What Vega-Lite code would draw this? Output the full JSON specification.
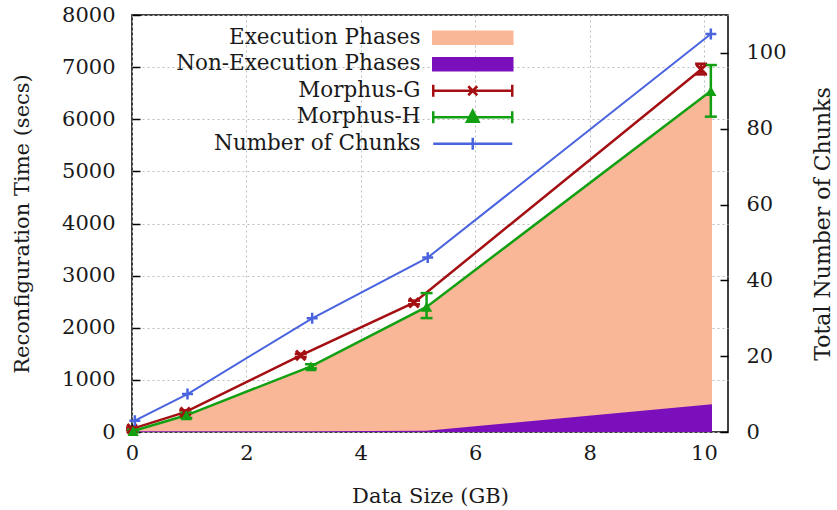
{
  "$schema": "https://vega.github.io/schema/vega-lite/v6.json",
  "width": 596,
  "height": 417,
  "autosize": {"type": "none"},
  "padding": {"left": 132, "top": 15, "right": 109, "bottom": 78},
  "background": "white",
  "config": {
    "font": "DejaVu Serif",
    "view": {"stroke": "#000", "strokeWidth": 1.5},
    "axis": {
      "labelFont": "DejaVu Serif",
      "labelFontSize": 21,
      "labelColor": "#1a1a1a",
      "labelFlush": false,
      "format": "d",
      "titleFont": "DejaVu Serif",
      "titleFontSize": 21,
      "titleFontWeight": "normal",
      "titleColor": "#1a1a1a",
      "domain": false,
      "tickColor": "#000",
      "tickWidth": 1.5,
      "gridColor": "#bdbdbd",
      "gridDash": [2, 3],
      "gridWidth": 1
    },
    "legend": {
      "labelFont": "DejaVu Serif",
      "labelFontSize": 21.5,
      "labelColor": "#1a1a1a",
      "labelLimit": 0
    }
  },
  "data": {
    "values": [
      {"series": "Execution Phases", "x": 0, "y": 20},
      {"series": "Execution Phases", "x": 0.95, "y": 320},
      {"series": "Execution Phases", "x": 3.13, "y": 1260},
      {"series": "Execution Phases", "x": 5.15, "y": 2400},
      {"series": "Execution Phases", "x": 10.14, "y": 6540},
      {"series": "Non-Execution Phases", "x": 0, "y": 15},
      {"series": "Non-Execution Phases", "x": 0.95, "y": 15},
      {"series": "Non-Execution Phases", "x": 3.13, "y": 15},
      {"series": "Non-Execution Phases", "x": 5.15, "y": 25},
      {"series": "Non-Execution Phases", "x": 10.14, "y": 530},
      {"series": "Morphus-G", "x": 0.0, "y": 60, "lo": 35, "hi": 85},
      {"series": "Morphus-G", "x": 0.93, "y": 380, "lo": 345, "hi": 415},
      {"series": "Morphus-G", "x": 2.95, "y": 1470, "lo": 1440, "hi": 1500},
      {"series": "Morphus-G", "x": 4.93, "y": 2480, "lo": 2450, "hi": 2520},
      {"series": "Morphus-G", "x": 9.95, "y": 6955, "lo": 6860, "hi": 7065},
      {"series": "Morphus-H", "x": 0.02, "y": 20, "lo": 0, "hi": 45},
      {"series": "Morphus-H", "x": 0.95, "y": 320, "lo": 270, "hi": 370},
      {"series": "Morphus-H", "x": 3.13, "y": 1260, "lo": 1220, "hi": 1300},
      {"series": "Morphus-H", "x": 5.15, "y": 2400, "lo": 2185, "hi": 2665},
      {"series": "Morphus-H", "x": 10.12, "y": 6540, "lo": 6050, "hi": 7040},
      {"series": "Number of Chunks", "x": 0.05, "y": 3},
      {"series": "Number of Chunks", "x": 0.97, "y": 10},
      {"series": "Number of Chunks", "x": 3.15, "y": 30},
      {"series": "Number of Chunks", "x": 5.17, "y": 46},
      {"series": "Number of Chunks", "x": 10.12, "y": 105}
    ]
  },
  "encoding": {
    "x": {
      "field": "x",
      "type": "quantitative",
      "title": "Data Size (GB)",
      "scale": {"domain": [0, 10.42], "nice": false, "zero": false},
      "axis": {
        "values": [0, 2, 4, 6, 8, 10],
        "grid": true,
        "tickSize": -8,
        "labelPadding": 18,
        "titlePadding": 22
      }
    },
    "color": {
      "field": "series",
      "type": "nominal",
      "scale": {
        "domain": ["Execution Phases", "Non-Execution Phases", "Morphus-G", "Morphus-H", "Number of Chunks"],
        "range": ["#f9b797", "#7a0fbb", "#a30f12", "#12a012", "#4a63de"]
      },
      "legend": {
        "title": null,
        "orient": "none",
        "legendX": 280,
        "legendY": 12,
        "padding": 0,
        "labelAlign": "right",
        "labelOffset": -63,
        "symbolOffset": 50,
        "symbolSize": 100,
        "symbolStrokeWidth": 2.5,
        "rowPadding": 3.5,
        "encode": {
          "symbols": {
            "update": {
              "shape": {"signal": "datum.value === 'Execution Phases' || datum.value === 'Non-Execution Phases' ? 'M-7.9,-1.2H7.9V1.2H-7.9Z' : datum.value === 'Morphus-G' ? 'M-7.9,0H7.9M-7.9,-1.2V1.2M7.9,-1.2V1.2M-0.9,-0.9L0.9,0.9M0.9,-0.9L-0.9,0.9' : datum.value === 'Morphus-H' ? 'M-7.9,0H7.9M-7.9,-1.2V1.2M7.9,-1.2V1.2M0,-1.3L1.15,0.9L-1.15,0.9Z' : 'M-7.9,0H7.9M0,-1.2V1.2'"},
              "fill": {"signal": "datum.value === 'Execution Phases' ? '#f9b797' : datum.value === 'Non-Execution Phases' ? '#7a0fbb' : datum.value === 'Morphus-H' ? '#12a012' : 'transparent'"},
              "stroke": {"signal": "datum.value === 'Execution Phases' ? '#f0601a' : datum.value === 'Non-Execution Phases' ? '#7a0fbb' : datum.value === 'Morphus-G' ? '#a30f12' : datum.value === 'Morphus-H' ? '#12a012' : '#4a63de'"},
              "opacity": {"value": 1}
            }
          }
        }
      }
    }
  },
  "layer": [
    {
      "encoding": {
        "y": {
          "field": "y",
          "type": "quantitative",
          "title": "Reconfiguration Time (secs)",
          "scale": {"domain": [0, 8000], "nice": false},
          "axis": {
            "values": [0, 1000, 2000, 3000, 4000, 5000, 6000, 7000, 8000],
            "grid": true,
            "tickSize": -8,
            "labelPadding": 25,
            "titlePadding": 29
          }
        }
      },
      "layer": [
        {
          "transform": [{"filter": "datum.series === 'Execution Phases'"}],
          "mark": {"type": "area", "opacity": 1}
        },
        {
          "transform": [{"filter": "datum.series === 'Non-Execution Phases'"}],
          "mark": {"type": "area", "opacity": 1}
        },
        {
          "transform": [{"filter": "datum.series === 'Morphus-G' || datum.series === 'Morphus-H'"}],
          "mark": {"type": "line", "strokeWidth": 2.5}
        },
        {
          "transform": [{"filter": "datum.series === 'Morphus-G' || datum.series === 'Morphus-H'"}],
          "mark": {"type": "rule", "strokeWidth": 2.5},
          "encoding": {
            "y": {"field": "lo", "type": "quantitative", "title": "Reconfiguration Time (secs)"},
            "y2": {"field": "hi"}
          }
        },
        {
          "transform": [{"filter": "datum.series === 'Morphus-G' || datum.series === 'Morphus-H'"}],
          "mark": {"type": "point", "shape": "M-1,0L1,0", "size": 144, "filled": false, "strokeWidth": 2.5, "opacity": 1},
          "encoding": {
            "y": {"field": "lo", "type": "quantitative", "title": "Reconfiguration Time (secs)"}
          }
        },
        {
          "transform": [{"filter": "datum.series === 'Morphus-G' || datum.series === 'Morphus-H'"}],
          "mark": {"type": "point", "shape": "M-1,0L1,0", "size": 144, "filled": false, "strokeWidth": 2.5, "opacity": 1},
          "encoding": {
            "y": {"field": "hi", "type": "quantitative", "title": "Reconfiguration Time (secs)"}
          }
        },
        {
          "transform": [{"filter": "datum.series === 'Morphus-G'"}],
          "mark": {"type": "point", "shape": "M-1,-1L1,1M1,-1L-1,1", "size": 90, "filled": false, "strokeWidth": 3, "opacity": 1}
        },
        {
          "transform": [{"filter": "datum.series === 'Morphus-H'"}],
          "mark": {"type": "point", "shape": "triangle-up", "size": 130, "filled": true, "opacity": 1}
        }
      ]
    },
    {
      "transform": [{"filter": "datum.series === 'Number of Chunks'"}],
      "encoding": {
        "y": {
          "field": "y",
          "type": "quantitative",
          "title": "Total Number of Chunks",
          "scale": {"domain": [0, 110], "nice": false},
          "axis": {
            "orient": "right",
            "values": [0, 20, 40, 60, 80, 100],
            "grid": false,
            "tickSize": -8,
            "labelPadding": 26,
            "titleAngle": 270,
            "titleFontSize": 22,
            "titlePadding": 48
          }
        }
      },
      "layer": [
        {"mark": {"type": "line", "strokeWidth": 2}},
        {"mark": {"type": "point", "shape": "M-1,0L1,0M0,-1L0,1", "size": 120, "filled": false, "strokeWidth": 2.5, "opacity": 1}}
      ]
    }
  ],
  "resolve": {"scale": {"y": "independent"}}
}
